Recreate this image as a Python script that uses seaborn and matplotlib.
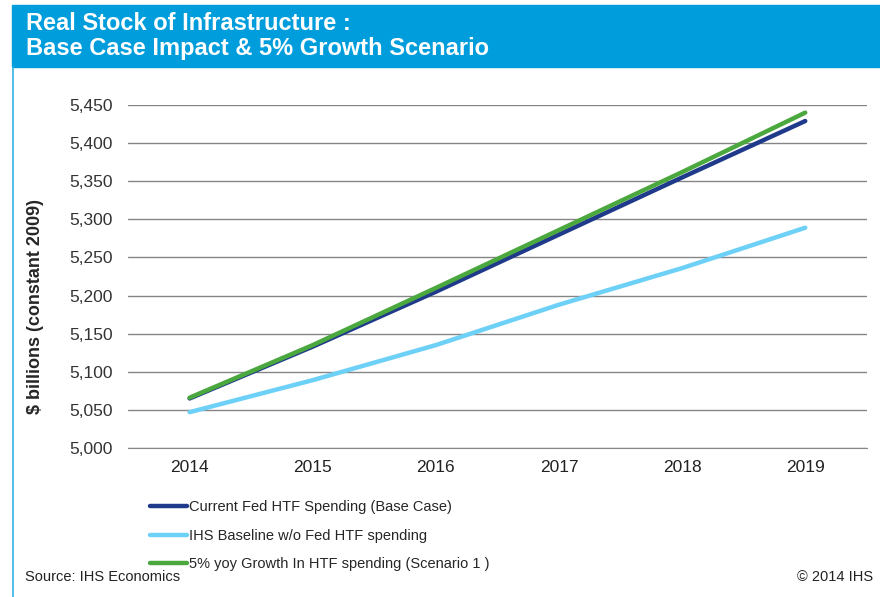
import pandas as pd
import seaborn as sns
import matplotlib.pyplot as plt
from matplotlib.ticker import FuncFormatter, FixedLocator

years = ["2014", "2015", "2016", "2017", "2018", "2019"]
base_case = [5065, 5133, 5205, 5280, 5355, 5429]
baseline = [5047, 5089, 5135, 5188, 5236, 5289]
growth = [5066, 5135, 5210, 5286, 5362, 5440]
series_names = ["Current Fed HTF Spending (Base Case)",
                "IHS Baseline w/o Fed HTF spending",
                "5% yoy Growth In HTF spending (Scenario 1 )"]
colors = ["#1f3a8a", "#6dd0f7", "#4ba83f"]

df = pd.DataFrame({
    "year": years * 3,
    "value": base_case + baseline + growth,
    "series": [series_names[0]] * 6 + [series_names[1]] * 6 + [series_names[2]] * 6,
})
df["x"] = df["year"].map({y: i for i, y in enumerate(years)})

sns.set_style("white")
plt.rcParams["font.family"] = ["Liberation Sans", "DejaVu Sans"]

fig = plt.figure(figsize=(8.8, 5.97), dpi=100)
ax = fig.add_axes([0.1455, 0.2496, 0.8395, 0.5745])

sns.lineplot(data=df, x="x", y="value", hue="series", palette=colors,
             linewidth=3.2, ax=ax, legend=True, solid_capstyle="round")

ax.set_xlim(-0.5, 5.5)
ax.set_ylim(5000, 5450)
ax.set_yticks(range(5000, 5451, 50))
ax.yaxis.set_major_formatter(FuncFormatter(lambda v, p: f"{int(v):,}"))
ax.set_xticks(range(6))
ax.set_xticklabels(years)
ax.xaxis.set_minor_locator(FixedLocator([0.5, 1.5, 2.5, 3.5, 4.5]))
ax.tick_params(axis="x", which="major", length=0, labelsize=12.5, pad=9, colors="#222222")
ax.tick_params(axis="x", which="minor", length=5, width=1, color="#888888")
ax.tick_params(axis="y", length=0, labelsize=12.5, pad=11, colors="#333333")
ax.grid(axis="y", color="#858585", linewidth=1)
ax.set_axisbelow(True)
for s in ["left", "right", "top"]:
    ax.spines[s].set_visible(False)
ax.spines["bottom"].set_color("#888888")
ax.set_xlabel("")
ax.set_ylabel("$ billions (constant 2009)", fontsize=13, fontweight="bold")
ax.yaxis.set_label_coords(-0.114, 0.413)

handles, labels = ax.get_legend_handles_labels()
ax.legend(handles, labels, loc="upper left", bbox_to_anchor=(0.155, 0.184),
          bbox_transform=fig.transFigure, frameon=False, fontsize=10.5,
          handlelength=2.6, handletextpad=0.1, labelspacing=1.0)

# header band
fig.patches.append(plt.Rectangle((12 / 880, 1 - 67 / 597), 1, 62 / 597,
                                 transform=fig.transFigure, color="#009ddc", zorder=0))
fig.add_artist(plt.Line2D([12.5 / 880, 12.5 / 880], [0, 1 - 67 / 597],
                          transform=fig.transFigure, color="#33b3e6", linewidth=1.2))
fig.text(26 / 880, 1 - 23 / 597, "Real Stock of Infrastructure :", color="white",
         fontsize=17, fontweight="bold", va="center")
fig.text(26 / 880, 1 - 48 / 597, "Base Case Impact & 5% Growth Scenario", color="white",
         fontsize=17, fontweight="bold", va="center")

fig.text(25 / 880, 1 - 577 / 597, "Source: IHS Economics", fontsize=10.5, va="center",
         color="#222222")
fig.text(873 / 880, 1 - 577 / 597, "© 2014 IHS", fontsize=10.5, va="center", ha="right",
         color="#222222")

fig.savefig("out.png", dpi=100)
